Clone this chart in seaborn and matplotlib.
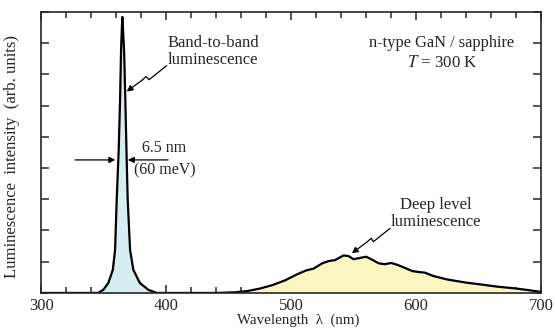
import numpy as np
import pandas as pd
import matplotlib
matplotlib.use("Agg")
import matplotlib.pyplot as plt
import seaborn as sns
from matplotlib.ticker import MultipleLocator

# band-to-band peak (nm, arb. units)
band_wl = [300, 345.6, 349.8, 353.8, 357.4, 359.2, 360.5, 362.1, 363.2, 364.0, 364.6, 365.0,
           365.5, 366.4, 367.4, 368.3, 369.3, 371.2, 373.8, 379.0, 385.8, 392.5]
band_int = [0, 0, 0.1, 0.32, 0.74, 1.38, 2.98, 4.58, 6.19, 7.79, 8.45, 8.84,
            8.45, 7.79, 6.19, 4.58, 2.98, 1.38, 0.74, 0.32, 0.1, 0]

# deep level band
deep_wl = [440, 455, 465, 475, 485, 495, 505, 512, 518, 525, 530, 535, 542, 546, 550, 555, 560,
           565, 570, 575, 580, 585, 590, 597, 602, 607, 614, 625, 640, 652, 665, 678, 690, 700]
deep_int = [0, 0.02, 0.06, 0.14, 0.25, 0.4, 0.6, 0.72, 0.78, 0.95, 1.02, 1.05, 1.2, 1.18, 1.08, 1.12, 1.16,
            1.06, 0.95, 0.92, 0.96, 0.9, 0.82, 0.7, 0.67, 0.65, 0.54, 0.43, 0.33, 0.27, 0.2, 0.15, 0.09, 0.03]

df = pd.DataFrame({"wl": band_wl + deep_wl, "I": band_int + deep_int})

sns.set_style("ticks")
plt.rcParams['font.family'] = ['Liberation Serif', 'DejaVu Serif']
plt.rcParams['mathtext.fontset'] = 'stix'

fig, ax = plt.subplots(figsize=(5.55, 3.31), dpi=100)
fig.subplots_adjust(left=0.074, right=0.975, top=0.964, bottom=0.115)

ax.fill_between(band_wl, band_int, color='#d5edf3', lw=0)
ax.fill_between(deep_wl, deep_int, color='#fbf5bf', lw=0)
sns.lineplot(data=df, x="wl", y="I", color='black', lw=1.6, sort=False, ax=ax)

ax.set_xlim(300, 700)
ax.set_ylim(0, 9)
ax.xaxis.set_major_locator(MultipleLocator(100))
ax.xaxis.set_minor_locator(MultipleLocator(20))
ax.yaxis.set_major_locator(MultipleLocator(1))
ax.tick_params(axis='both', which='both', direction='in', top=True, right=True, width=1.1)
ax.tick_params(axis='both', which='major', length=6, labelsize=12)
ax.tick_params(axis='x', which='minor', length=4)
ax.set_yticklabels([])
for s in ax.spines.values():
    s.set_linewidth(1.2)

ax.set_xlabel('Wavelength  λ  (nm)', fontsize=10.8)
ax.xaxis.set_label_coords(0.514, -0.075)
ax.set_ylabel('Luminescence  intensity  (arb. units)', fontsize=12)
ax.yaxis.set_label_coords(-0.042, 0.484)

arr = dict(arrowstyle='-|>', color='black', lw=0.9, mutation_scale=9, shrinkA=0, shrinkB=0)

# band-to-band label and squiggle
ax.text(437.6, 7.74, 'Band-to-band\nluminescence', ha='center', va='center', fontsize=12, linespacing=1.05)
ax.plot([400.5, 386.4, 384, 381], [7.28, 6.83, 6.93, 6.82], color='black', lw=0.9)
ax.annotate('', xy=(368.5, 6.45), xytext=(381, 6.82), arrowprops=arr)

# FWHM arrows
ax.annotate('', xy=(359.4, 4.26), xytext=(327.2, 4.26), arrowprops=arr)
ax.annotate('', xy=(369.4, 4.26), xytext=(401.6, 4.26), arrowprops=arr)
ax.text(398.8, 4.65, '6.5 nm', ha='center', va='center', fontsize=11.5)
ax.text(398.8, 3.91, '(60 meV)', ha='center', va='center', fontsize=11.5)

ax.text(620, 8.01, 'n-type GaN / sapphire', ha='center', va='center', fontsize=11.8)
ax.text(621, 7.37, '$T$ = 300 K', ha='center', va='center', fontsize=12.2)

# deep level label and squiggle
ax.text(616, 2.55, 'Deep level\nluminescence', ha='center', va='center', fontsize=12, linespacing=1.05)
ax.plot([579.2, 565.8, 564, 561], [2.07, 1.64, 1.75, 1.64], color='black', lw=0.9)
ax.annotate('', xy=(548.6, 1.27), xytext=(561, 1.64), arrowprops=arr)

fig.savefig('out.png', dpi=100)
